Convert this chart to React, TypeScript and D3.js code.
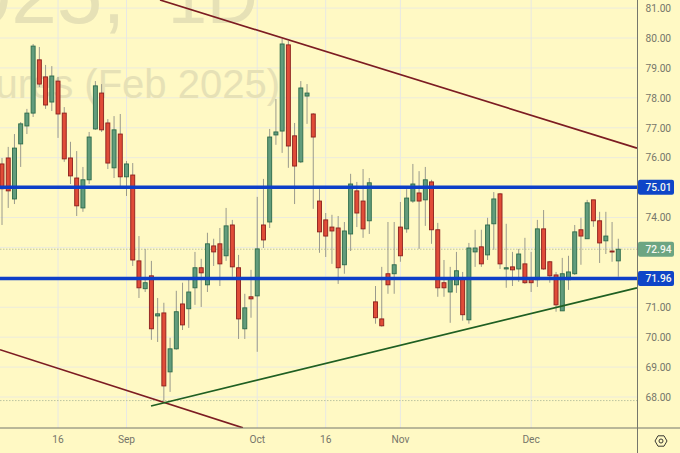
import React, { useRef, useEffect } from "react";
import * as d3 from "d3";

// daily candles, oldest first
const opens = [75.79,75.99,74.62,76.46,77.06,77.49,79.27,78.70,77.86,78.56,77.49,75.99,75.32,74.32,75.26,76.96,78.16,77.16,75.66,76.79,75.36,75.42,72.55,71.62,72.05,70.71,70.81,68.84,69.61,71.11,70.95,71.65,72.32,71.75,73.05,73.12,72.72,73.75,72.32,70.28,71.35,71.38,73.75,73.85,76.76,76.89,79.77,76.73,75.86,78.06,77.46,74.55,73.92,73.68,73.65,72.42,73.45,74.89,74.55,73.89,71.18,70.61,72.12,72.12,73.68,73.62,74.55,74.82,74.59,75.19,73.59,71.82,71.51,71.75,71.98,70.58,72.85,73.02,72.75,73.79,74.79,72.28,72.35,72.28,72.45,71.98,71.92,73.62,72.52,72.08,70.88,71.92,72.12,73.59,73.29,74.59,73.89,73.22,72.88,72.55];
const highs = [75.99,76.36,76.79,77.19,77.63,79.80,79.70,79.10,79.06,78.70,77.69,76.53,76.22,75.69,76.86,78.56,78.46,77.29,77.39,77.46,75.89,75.82,73.38,72.95,72.55,71.31,71.15,69.98,71.55,71.82,71.98,72.85,72.62,73.49,73.29,73.65,74.32,73.92,72.75,71.45,72.25,74.69,75.29,76.96,77.96,79.97,79.90,77.16,78.56,78.46,77.49,74.95,74.15,74.09,74.05,73.85,75.46,75.19,75.62,75.32,71.71,72.35,73.85,73.85,74.52,74.95,75.79,75.55,75.69,75.26,73.82,72.58,72.35,72.85,72.18,73.15,73.59,73.59,73.99,74.85,74.82,73.79,72.85,72.95,73.32,72.85,73.92,74.25,72.55,72.18,72.65,72.72,73.75,73.99,74.59,74.59,74.19,74.19,73.85,73.29];
const lows = [73.75,74.32,74.45,75.69,76.79,77.36,78.36,77.63,77.56,76.66,75.86,75.12,74.05,74.19,75.12,76.93,76.86,75.62,75.32,74.99,74.72,72.38,71.31,71.51,69.91,69.84,67.87,68.17,69.58,70.24,70.31,71.08,71.01,71.51,72.38,71.71,72.55,72.02,69.94,69.94,70.65,69.51,72.98,73.65,76.43,76.16,75.66,74.45,75.82,77.13,74.29,72.82,72.68,72.45,71.78,72.12,72.88,73.68,73.32,73.45,70.45,70.35,71.45,71.45,72.52,73.49,74.49,72.95,73.72,73.12,71.35,71.35,70.48,71.48,70.55,70.45,72.35,72.35,72.58,72.92,72.28,71.65,71.71,71.85,71.78,71.51,71.68,72.25,71.82,70.85,70.88,71.58,72.08,72.42,73.29,73.69,72.48,72.78,72.52,72.02];
const closes = [74.96,74.89,76.32,77.13,77.49,79.73,78.46,77.76,78.73,77.46,75.96,75.39,74.39,75.26,76.69,78.40,76.93,75.82,76.93,75.36,75.79,72.58,71.65,71.82,70.28,70.78,68.37,69.61,70.85,70.41,71.51,72.32,72.15,73.12,72.85,72.45,73.72,72.35,70.61,70.98,71.28,72.95,73.25,76.69,76.86,79.80,76.39,75.72,78.33,78.16,76.69,73.52,73.38,73.55,72.32,73.55,75.12,74.15,73.62,75.16,70.65,70.38,71.75,72.42,72.72,74.65,75.12,74.55,75.26,73.59,71.65,71.65,71.98,72.22,70.75,72.98,72.98,72.45,73.75,74.62,72.45,72.32,72.25,72.78,71.82,71.82,73.62,72.28,72.05,71.08,72.12,72.18,73.52,73.38,74.49,73.89,73.15,73.38,72.85,72.94];

const priceTicks = [81, 80, 79, 78, 77, 76, 74, 71, 70, 69, 68];
const gridPrices = [81, 80, 79, 78, 77, 76, 75, 74, 73, 72, 71, 70, 69, 68];
const dateTicks = [
  { index: 9, label: "16" },
  { index: 20, label: "Sep" },
  { index: 41, label: "Oct" },
  { index: 52, label: "16" },
  { index: 64, label: "Nov" },
  { index: 85, label: "Dec" },
];

const levels = [75.01, 71.96];
const lastPrice = 72.94;
const lowMark = 67.88;

// trend lines as [candle index, price]
const upperChannel: [number, number][] = [[25.38, 81.27], [102, 76.32]];
const lowerChannel: [number, number][] = [[-0.32, 69.58], [38.7, 66.97]];
const supportLine: [number, number][] = [[23.94, 67.7], [102, 71.65]];

const W = 680;
const H = 453;
const plotRight = 637.5;
const plotBottom = 428;
const font = "Roboto, 'Liberation Sans', sans-serif";
const markFont = "'Liberation Sans', sans-serif";

const App = () => {
  const svgRef = useRef<SVGSVGElement>(null);

  useEffect(() => {
    const svg = d3.select(svgRef.current);
    svg.selectAll("*").remove();

    const x = d3.scaleLinear().domain([0, 99]).range([2, 618.3]);
    const y = d3.scaleLinear().domain([80, 68]).range([38, 397]);

    svg.append("rect").attr("width", W).attr("height", H).attr("fill", "#fff9c4");

    const defs = svg.append("defs");
    defs
      .append("clipPath")
      .attr("id", "plot")
      .append("rect")
      .attr("width", plotRight)
      .attr("height", plotBottom);

    const plot = svg.append("g").attr("clip-path", "url(#plot)");

    // grid
    plot
      .selectAll(".hgrid")
      .data(gridPrices)
      .enter()
      .append("line")
      .attr("x1", 0)
      .attr("x2", plotRight)
      .attr("y1", (d) => y(d))
      .attr("y2", (d) => y(d))
      .attr("stroke", "#ecebdc")
      .attr("stroke-width", 1);
    plot
      .selectAll(".vgrid")
      .data(dateTicks)
      .enter()
      .append("line")
      .attr("x1", (d) => x(d.index))
      .attr("x2", (d) => x(d.index))
      .attr("y1", 0)
      .attr("y2", plotBottom)
      .attr("stroke", "#e8e8e4")
      .attr("stroke-width", 1);

    // watermark
    plot
      .append("text")
      .attr("x", -80)
      .attr("y", 23)
      .attr("font-family", markFont)
      .attr("font-size", 82)
      .attr("fill", "#e6e1b6")
      .text("2025,");
    plot
      .append("text")
      .attr("x", 168)
      .attr("y", 23)
      .attr("font-family", markFont)
      .attr("font-size", 70)
      .attr("fill", "#e6e1b6")
      .text("1D");
    plot
      .append("text")
      .attr("x", 280)
      .attr("y", 98)
      .attr("text-anchor", "end")
      .attr("font-family", markFont)
      .attr("font-size", 40)
      .attr("fill", "#e6e1b6")
      .text("Futures (Feb 2025)");

    // dotted price lines
    plot
      .selectAll(".dotted")
      .data([lastPrice, lowMark])
      .enter()
      .append("line")
      .attr("x1", 0)
      .attr("x2", plotRight)
      .attr("y1", (d) => y(d))
      .attr("y2", (d) => y(d))
      .attr("stroke", "#bcc4a0")
      .attr("stroke-dasharray", "1.5 1.5")
      .attr("stroke-width", 1);

    // candles
    const candles = d3.range(closes.length);
    const isUp = (i: number) => closes[i] >= opens[i];

    plot
      .selectAll(".wick")
      .data(candles)
      .enter()
      .append("line")
      .attr("x1", (i) => x(i))
      .attr("x2", (i) => x(i))
      .attr("y1", (i) => y(highs[i]))
      .attr("y2", (i) => y(lows[i]))
      .attr("stroke", "#9a9a8c")
      .attr("stroke-width", 1);

    plot
      .selectAll(".body")
      .data(candles)
      .enter()
      .append("rect")
      .attr("x", (i) => x(i) - 2)
      .attr("width", 4)
      .attr("y", (i) => y(Math.max(opens[i], closes[i])))
      .attr("height", (i) => Math.max(1, Math.abs(y(opens[i]) - y(closes[i]))))
      .attr("fill", (i) => (isUp(i) ? "#629c7c" : "#e04c38"))
      .attr("stroke", (i) => (isUp(i) ? "#2c6a4a" : "#8c1f1c"))
      .attr("stroke-width", 0.9);

    // horizontal levels
    plot
      .selectAll(".level")
      .data(levels)
      .enter()
      .append("line")
      .attr("x1", 0)
      .attr("x2", plotRight)
      .attr("y1", (d) => y(d))
      .attr("y2", (d) => y(d))
      .attr("stroke", "#0d3fc8")
      .attr("stroke-width", 3.4);

    // trend lines
    const trend = d3
      .line<[number, number]>()
      .x((d) => x(d[0]))
      .y((d) => y(d[1]));
    plot
      .selectAll(".channel")
      .data([upperChannel, lowerChannel])
      .enter()
      .append("path")
      .attr("d", (d) => trend(d))
      .attr("fill", "none")
      .attr("stroke", "#7c1c22")
      .attr("stroke-width", 1.7);
    plot
      .append("path")
      .attr("d", trend(supportLine))
      .attr("fill", "none")
      .attr("stroke", "#1f5f22")
      .attr("stroke-width", 1.7);

    // frame
    svg
      .append("line")
      .attr("x1", plotRight)
      .attr("x2", plotRight)
      .attr("y1", 0)
      .attr("y2", H)
      .attr("stroke", "#75766c");
    svg
      .append("line")
      .attr("x1", 0)
      .attr("x2", W)
      .attr("y1", plotBottom)
      .attr("y2", plotBottom)
      .attr("stroke", "#75766c");

    // price axis
    const axis = d3
      .axisRight(y)
      .tickValues(priceTicks)
      .tickSize(0)
      .tickPadding(8)
      .tickFormat((d) => d3.format(".2f")(d as number));
    const axisG = svg.append("g").attr("transform", `translate(${plotRight},0)`).call(axis);
    axisG.select(".domain").remove();
    axisG
      .selectAll("text")
      .attr("font-family", font)
      .attr("font-size", 10.2)
      .attr("fill", "#76766a");

    // price pills
    const pills = [
      { price: levels[0], color: "#0e45c8" },
      { price: lastPrice, color: "#6ca582" },
      { price: levels[1], color: "#0e45c8" },
    ];
    const pill = svg
      .selectAll(".pill")
      .data(pills)
      .enter()
      .append("g")
      .attr("transform", (d) => `translate(${plotRight + 0.5},${y(d.price)})`);
    pill
      .append("rect")
      .attr("y", -7.5)
      .attr("width", 36)
      .attr("height", 15)
      .attr("rx", 2)
      .attr("fill", (d) => d.color);
    pill
      .append("text")
      .attr("x", 7.5)
      .attr("y", 3.8)
      .attr("font-family", font)
      .attr("font-size", 10.2)
      .attr("font-weight", 500)
      .attr("fill", "#f4f6ee")
      .text((d) => d3.format(".2f")(d.price));

    // date axis
    svg
      .selectAll(".date")
      .data(dateTicks)
      .enter()
      .append("text")
      .attr("x", (d) => x(d.index))
      .attr("y", 443)
      .attr("text-anchor", "middle")
      .attr("font-family", font)
      .attr("font-size", 10.2)
      .attr("fill", "#76766a")
      .text((d) => d.label);

    // settings icon
    const hexagon = d3.lineRadial<number>().angle((d) => d).radius(6).curve(d3.curveLinearClosed);
    const gear = svg.append("g").attr("transform", "translate(661,441)");
    gear
      .append("path")
      .attr("d", hexagon(d3.range(6).map((k) => Math.PI / 2 + (k * Math.PI) / 3)))
      .attr("fill", "none")
      .attr("stroke", "#3a3a34")
      .attr("stroke-width", 1);
    gear
      .append("circle")
      .attr("r", 2)
      .attr("fill", "none")
      .attr("stroke", "#3a3a34")
      .attr("stroke-width", 1);
  }, []);

  return (
    <svg
      ref={svgRef}
      width={W}
      height={H}
      style={{ position: "absolute", top: 0, left: 0, display: "block" }}
    ></svg>
  );
};

export default App;
